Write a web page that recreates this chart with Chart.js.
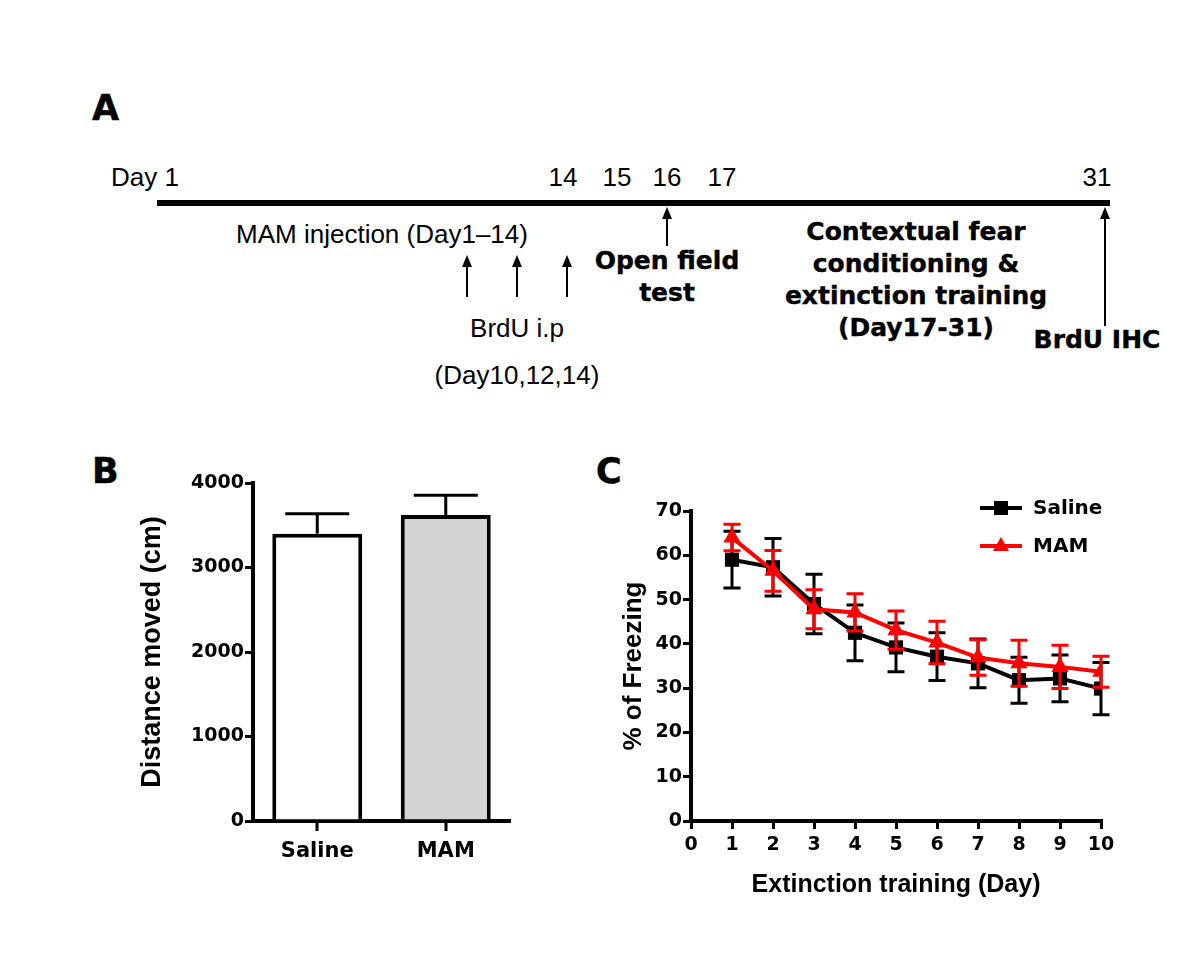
<!DOCTYPE html>
<html>
<head>
<meta charset="utf-8">
<title>MAM / BrdU experiment</title>
<script src="https://cdn.jsdelivr.net/npm/chart.js@4.4.0/dist/chart.umd.min.js"></script>
<style>
  html, body { margin: 0; padding: 0; background: #fff; }
  #page { position: relative; width: 1200px; height: 954px; overflow: hidden; color: #000;
          font-family: "Liberation Sans", Arial, sans-serif; }
  .abs { position: absolute; white-space: nowrap; }
  .letter { font-family: "DejaVu Sans"; font-weight: bold; font-size: 35px; line-height: 1;
            -webkit-text-stroke: 0.5px #000; }
  .reg { font-size: 26px; line-height: 1; transform: translate(-50%, -50%); }
  .heavy { font-family: "DejaVu Sans"; font-weight: bold; font-size: 25px; line-height: 32px;
           text-align: center; transform: translateX(-50%); -webkit-text-stroke: 0.4px #000; }
  .timeline { position: absolute; left: 157px; top: 200px; width: 953px; height: 6px; background: #000; }
  .arrow { position: absolute; width: 2px; background: #000; transform: translateX(-1px); }
  .arrow::before { content: ""; position: absolute; left: -4px; top: -12px;
                   border-left: 5px solid transparent; border-right: 5px solid transparent;
                   border-bottom: 12px solid #000; }
  canvas { position: absolute; }
</style>
</head>
<body>
<div id="page">
  <!-- panel A: schematic timeline -->
  <div class="abs letter" style="left:92px; top:91px;">A</div>
  <div id="dayLabels"></div>
  <div class="timeline"></div>
  <div class="abs reg" style="left:382px; top:234px;">MAM injection (Day1&#8211;14)</div>
  <div class="arrow" style="left:467px; top:267px; height:30px;"></div>
  <div class="arrow" style="left:517px; top:267px; height:30px;"></div>
  <div class="arrow" style="left:567px; top:267px; height:30px;"></div>
  <div class="abs reg" style="left:517px; top:328px;">BrdU i.p</div>
  <div class="abs reg" style="left:517px; top:375px;">(Day10,12,14)</div>
  <div class="arrow" style="left:667px; top:219px; height:27px;"></div>
  <div class="abs heavy" style="left:667px; top:245px;">Open field<br>test</div>
  <div class="abs heavy" style="left:916px; top:216px;">Contextual fear<br>conditioning &amp;<br>extinction training<br>(Day17-31)</div>
  <div class="arrow" style="left:1105px; top:219px; height:107px;"></div>
  <div class="abs heavy" style="left:1097px; top:324px;">BrdU IHC</div>

  <!-- panel B / C -->
  <div class="abs letter" style="left:92px; top:454px;">B</div>
  <div class="abs letter" style="left:596px; top:454px;">C</div>
  <canvas id="distanceChart" width="410" height="440" style="left:120px; top:455px;"></canvas>
  <canvas id="freezeChart" width="540" height="440" style="left:600px; top:480px;"></canvas>
</div>

<script>
// timeline labels (panel A)
const timelineDays = ['Day 1', '14', '15', '16', '17', '31'];
const timelineX = [145, 563, 617, 667, 722, 1097];

// panel B: open field distance
const groups = ['Saline', 'MAM'];
const distanceMean = [3400, 3620];
const distanceSem = [235, 235];

// panel C: freezing during extinction training
const days = [1, 2, 3, 4, 5, 6, 7, 8, 9, 10];
const salineFreeze = [59.0, 57.3, 49.0, 42.5, 39.2, 37.1, 35.6, 31.8, 32.2, 29.9];
const salineSem = [6.4, 6.5, 6.7, 6.3, 5.5, 5.4, 5.5, 5.2, 5.3, 5.9];
const mamFreeze = [64.0, 56.5, 47.8, 47.1, 43.1, 40.3, 36.9, 35.6, 34.8, 33.7];
const mamSem = [3.0, 4.6, 4.4, 4.2, 4.3, 4.8, 4.0, 5.2, 4.9, 3.5];

const labelBox = document.getElementById('dayLabels');
timelineDays.forEach(function(txt, i) {
    const d = document.createElement('div');
    d.className = 'abs reg';
    d.style.left = timelineX[i] + 'px';
    d.style.top = '177px';
    d.textContent = txt;
    labelBox.appendChild(d);
});

Chart.defaults.font.family = '"DejaVu Sans", sans-serif';
Chart.defaults.font.weight = 'bold';
Chart.defaults.color = '#000';

// error bars drawn from the dataset's own errors array
const errorBars = {
    id: 'errorBars',
    beforeDatasetDraw(chart, args) {
        const ds = chart.data.datasets[args.index];
        if (ds.errors && ds.errorsBehind) drawErrors(chart, args.meta, ds);
    },
    afterDatasetDraw(chart, args) {
        const ds = chart.data.datasets[args.index];
        if (ds.errors && !ds.errorsBehind) drawErrors(chart, args.meta, ds);
    }
};

function drawErrors(chart, meta, ds) {
    const ctx = chart.ctx;
    const yScale = chart.scales.y;
    const half = ds.capWidth / 2;
    ctx.save();
    ctx.strokeStyle = ds.errorColor;
    ctx.lineWidth = 3;
    meta.data.forEach(function(el, i) {
        const raw = ds.data[i];
        const v = typeof raw === 'object' ? raw.y : raw;
        const top = yScale.getPixelForValue(v + ds.errors[i]);
        const bottom = ds.errorUpOnly ? el.y : yScale.getPixelForValue(v - ds.errors[i]);
        ctx.beginPath();
        ctx.moveTo(el.x, bottom);
        ctx.lineTo(el.x, top);
        ctx.moveTo(el.x - half, top);
        ctx.lineTo(el.x + half, top);
        if (!ds.errorUpOnly) {
            ctx.moveTo(el.x - half, bottom);
            ctx.lineTo(el.x + half, bottom);
        }
        ctx.stroke();
    });
    ctx.restore();
}

// small tick marks under each bar centre
const categoryTicks = {
    id: 'categoryTicks',
    afterDraw(chart) {
        const ctx = chart.ctx;
        const base = chart.chartArea.bottom;
        ctx.save();
        ctx.fillStyle = '#000';
        chart.getDatasetMeta(0).data.forEach(function(bar) {
            ctx.fillRect(Math.round(bar.x) - 1.5, base, 3, 10);
        });
        ctx.restore();
    }
};

// legend inside the plot, top right (line + marker + name)
const freezeLegend = {
    id: 'freezeLegend',
    afterDraw(chart) {
        const ctx = chart.ctx;
        const area = chart.chartArea;
        chart.data.datasets.forEach(function(ds, i) {
            const y = area.top - 3 + i * 38;
            const x0 = area.right - 121, x1 = area.right - 79, xm = (x0 + x1) / 2;
            ctx.save();
            ctx.strokeStyle = ds.borderColor;
            ctx.fillStyle = ds.borderColor;
            ctx.lineWidth = 4;
            ctx.beginPath();
            ctx.moveTo(x0, y);
            ctx.lineTo(x1, y);
            ctx.stroke();
            ctx.beginPath();
            if (ds.pointStyle === 'rect') {
                ctx.rect(xm - 7, y - 7, 14, 14);
            } else {
                ctx.moveTo(xm, y - 9);
                ctx.lineTo(xm + 8, y + 5);
                ctx.lineTo(xm - 8, y + 5);
                ctx.closePath();
            }
            ctx.fill();
            ctx.fillStyle = '#000';
            ctx.font = 'bold 20px "DejaVu Sans"';
            ctx.textBaseline = 'middle';
            ctx.fillText(ds.label, area.right - 68, y + 1);
            ctx.restore();
        });
    }
};

const plainNumber = function(v) { return String(v); };
const axisGrid = { drawOnChartArea: false, drawTicks: true, tickLength: 8, color: '#000', lineWidth: 3 };
const axisBorder = { display: true, width: 4, color: '#000' };

// panel B
new Chart(document.getElementById('distanceChart').getContext('2d'), {
    type: 'bar',
    data: {
        labels: groups,
        datasets: [{
            label: 'Distance moved',
            data: distanceMean,
            errors: distanceSem,
            errorUpOnly: true,
            errorColor: '#000',
            capWidth: 64,
            backgroundColor: ['#ffffff', '#d3d3d3'],
            borderColor: '#000',
            borderWidth: 4,
            borderSkipped: 'start',
            barPercentage: 0.7,
            categoryPercentage: 1
        }]
    },
    options: {
        responsive: false,
        animation: false,
        devicePixelRatio: 1,
        layout: { padding: { top: 28, right: 20, left: 0, bottom: 0 } },
        plugins: { legend: { display: false }, tooltip: { enabled: false } },
        scales: {
            x: {
                grid: { display: false },
                border: axisBorder,
                ticks: { font: { size: 21 }, padding: 10 },
                afterFit: function(s) { s.height = 74; }
            },
            y: {
                min: 0,
                max: 4000,
                ticks: { stepSize: 1000, font: { size: 19 }, padding: 1, callback: plainNumber },
                grid: axisGrid,
                border: axisBorder,
                title: {
                    display: true,
                    text: 'Distance moved (cm)',
                    font: { family: '"Liberation Sans", Arial, sans-serif', size: 27, weight: 'bold' },
                    padding: { top: 16, bottom: 0 }
                },
                afterFit: function(s) { s.width = 133; }
            }
        }
    },
    plugins: [errorBars, categoryTicks]
});

// panel C
new Chart(document.getElementById('freezeChart').getContext('2d'), {
    type: 'line',
    data: {
        datasets: [{
            label: 'Saline',
            data: days.map(function(d, i) { return { x: d, y: salineFreeze[i] }; }),
            errors: salineSem,
            errorsBehind: true,
            errorColor: '#000',
            capWidth: 17,
            borderColor: '#000',
            backgroundColor: '#000',
            borderWidth: 4,
            pointStyle: 'rect',
            pointRadius: 10,
            pointBackgroundColor: '#000',
            pointBorderWidth: 0,
            tension: 0,
            order: 2
        }, {
            label: 'MAM',
            data: days.map(function(d, i) { return { x: d, y: mamFreeze[i] }; }),
            errors: mamSem,
            errorsBehind: true,
            errorColor: '#ff0000',
            capWidth: 17,
            borderColor: '#ff0000',
            backgroundColor: '#ff0000',
            borderWidth: 4,
            pointStyle: 'triangle',
            pointRadius: 10,
            pointBackgroundColor: '#ff0000',
            pointBorderWidth: 0,
            tension: 0,
            order: 1
        }]
    },
    options: {
        responsive: false,
        animation: false,
        devicePixelRatio: 1,
        layout: { padding: { top: 31, right: 39, left: 0, bottom: 0 } },
        plugins: { legend: { display: false }, tooltip: { enabled: false } },
        scales: {
            x: {
                type: 'linear',
                min: 0,
                max: 10,
                ticks: { stepSize: 1, font: { size: 19 }, padding: 5, callback: plainNumber },
                grid: axisGrid,
                border: axisBorder,
                title: {
                    display: true,
                    text: 'Extinction training (Day)',
                    font: { family: '"Liberation Sans", Arial, sans-serif', size: 25, weight: 'bold' },
                    padding: { top: 0, bottom: 20 }
                },
                afterFit: function(s) { s.height = 99; }
            },
            y: {
                min: 0,
                max: 70,
                ticks: { stepSize: 10, font: { size: 19 }, padding: 1, callback: plainNumber },
                grid: axisGrid,
                border: axisBorder,
                title: {
                    display: true,
                    text: '% of Freezing',
                    font: { family: '"Liberation Sans", Arial, sans-serif', size: 26, weight: 'bold' },
                    padding: { top: 18, bottom: 0 }
                },
                afterFit: function(s) { s.width = 91; }
            }
        }
    },
    plugins: [errorBars, freezeLegend]
});
</script>
</body>
</html>
